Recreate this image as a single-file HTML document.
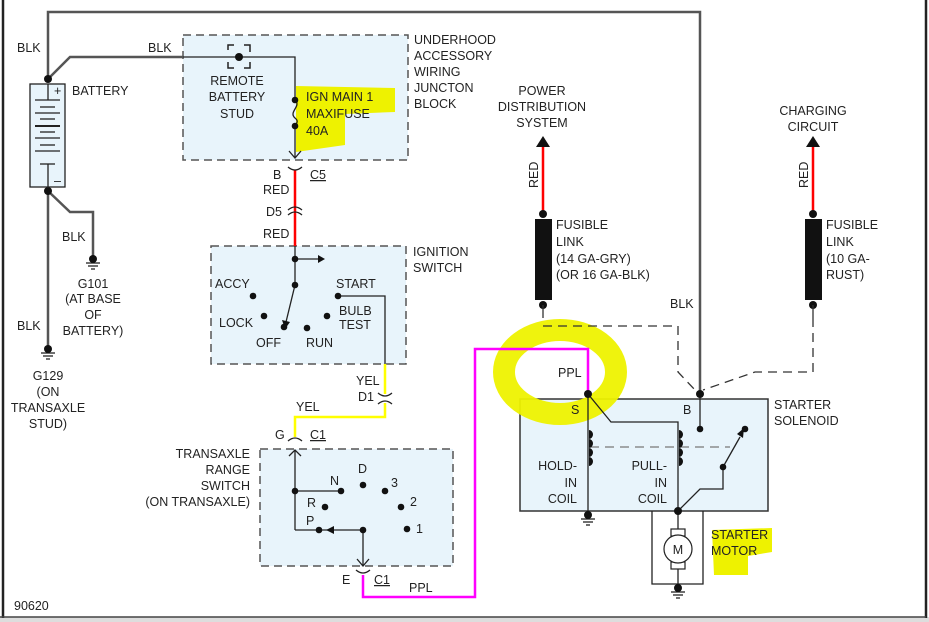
<!DOCTYPE html>
<html><head><meta charset="utf-8"><style>
html,body{margin:0;padding:0;background:#fff;}
svg{display:block;}
text{font-family:"Liberation Sans",Arial,sans-serif;font-size:12.5px;fill:#222;}
</style></head><body>
<svg width="929" height="622" viewBox="0 0 929 622" xmlns="http://www.w3.org/2000/svg">
<rect x="0" y="0" width="929" height="622" fill="#fff"/>
<rect x="0" y="617" width="929" height="5" fill="#ddd"/>
<line x1="3" y1="0" x2="3" y2="618" stroke="#222" stroke-width="2.5"/>
<line x1="926" y1="0" x2="926" y2="618" stroke="#222" stroke-width="2.5"/>
<line x1="0" y1="617" x2="926" y2="617" stroke="#444" stroke-width="1.5"/>

<!-- boxes -->
<rect x="183" y="35" width="225" height="125" fill="#e8f4fb" stroke="#555" stroke-width="1.5" stroke-dasharray="8,5"/>
<rect x="211" y="246" width="195" height="118" fill="#e8f4fb" stroke="#555" stroke-width="1.5" stroke-dasharray="8,5"/>
<rect x="260" y="449" width="193" height="117" fill="#e8f4fb" stroke="#555" stroke-width="1.5" stroke-dasharray="8,5"/>
<rect x="520" y="399" width="248" height="112" fill="#e8f4fb" stroke="#333" stroke-width="1.5"/>

<!-- highlights -->
<path d="M296 86 L395 88 L395 112 L345 114 L345 145 L296 152 Z" fill="#eef200"/>
<ellipse cx="560" cy="372" rx="56" ry="42" fill="none" stroke="#eef200" stroke-width="22" opacity="0.95"/>
<path d="M712 530 L772 528 L772 552 L748 556 L748 575 L714 575 Z" fill="#eef200"/>

<!-- gray main wires -->
<g stroke="#555" stroke-width="2.5" fill="none">
<polyline points="48,79 48,12 700,12 700,394"/>
<polyline points="48,191 48,348"/>
<polyline points="48,191 70,212 93,212 93,257"/>
<polyline points="48,79 70,57 183,57"/>
</g>
<g stroke="#222" stroke-width="1.3" fill="none">
<polyline points="183,57 295,57 295,100"/>
<path d="M295 100 C302 106 288 112 295 118 C300 122 295 124 295 126"/>
<line x1="295" y1="126" x2="295" y2="158"/>
<polyline points="289,151 295,158 301,151"/>
<path d="M228 50 V45 H234 M244 45 H250 V52 M250 62 V68 H244 M234 68 H228 V62" stroke-width="1.5"/>
</g>
<circle cx="239" cy="57" r="4" fill="#111"/>
<circle cx="295" cy="100" r="3.3" fill="#111"/>
<circle cx="295" cy="126" r="3.3" fill="#111"/>
<circle cx="48" cy="79" r="4" fill="#111"/>
<circle cx="48" cy="191" r="4" fill="#111"/>

<!-- battery -->
<rect x="30" y="84" width="35" height="103" fill="#e8f4fb" stroke="#222" stroke-width="1.3"/>
<g stroke="#222" stroke-width="1.3">
<line x1="48" y1="84" x2="48" y2="100"/>
<line x1="35" y1="100" x2="60" y2="100"/>
<line x1="40" y1="107" x2="55" y2="107"/>
<line x1="35" y1="113" x2="60" y2="113"/>
<line x1="40" y1="119" x2="55" y2="119"/>
<line x1="35" y1="126" x2="60" y2="126" stroke-width="2"/>
<line x1="40" y1="132" x2="55" y2="132"/>
<line x1="35" y1="138" x2="60" y2="138"/>
<line x1="40" y1="145" x2="55" y2="145"/>
<line x1="35" y1="151" x2="60" y2="151"/>
<line x1="40" y1="164" x2="55" y2="164"/>
<line x1="48" y1="164" x2="48" y2="187"/>
</g>
<text x="54" y="95" font-size="10">+</text>
<text x="54" y="185" font-size="10">–</text>

<!-- grounds -->
<g stroke="#222" stroke-width="1.3">
<line x1="86" y1="263" x2="100" y2="263"/><line x1="88" y1="266" x2="98" y2="266"/><line x1="91" y1="269" x2="95" y2="269"/>
<line x1="41" y1="353" x2="55" y2="353"/><line x1="43" y1="356" x2="53" y2="356"/><line x1="46" y1="359" x2="50" y2="359"/>
<line x1="581" y1="519" x2="595" y2="519"/><line x1="583" y1="522" x2="593" y2="522"/><line x1="586" y1="525" x2="590" y2="525"/>
<line x1="671" y1="592" x2="685" y2="592"/><line x1="673" y1="595" x2="683" y2="595"/><line x1="676" y1="598" x2="680" y2="598"/>
</g>
<circle cx="93" cy="259" r="4" fill="#111"/>
<circle cx="48" cy="349" r="4" fill="#111"/>

<!-- red wire -->
<line x1="295" y1="170" x2="295" y2="246" stroke="#f00" stroke-width="2.5"/>
<g stroke="#222" stroke-width="1.3" fill="none">
<path d="M288 167 Q295 173 302 167"/>
<path d="M288 210 Q295 204 302 210"/>
<path d="M288 215 Q295 209 302 215"/>
</g>

<!-- ignition switch -->
<g stroke="#222" stroke-width="1.3" fill="none">
<line x1="295" y1="246" x2="295" y2="285"/>
<line x1="295" y1="259" x2="318" y2="259"/>
<line x1="295" y1="285" x2="286" y2="322"/>
<polyline points="338,296 385,296 385,364"/>
</g>
<polygon points="318,255 325,259 318,263" fill="#111"/>
<polygon points="282,320 290,322 285,329" fill="#111"/>
<g fill="#111">
<circle cx="295" cy="259" r="3.3"/><circle cx="295" cy="285" r="3.3"/>
<circle cx="253" cy="296" r="3.3"/><circle cx="264" cy="316" r="3.3"/>
<circle cx="284" cy="327" r="3.3"/><circle cx="307" cy="328" r="3.3"/>
<circle cx="327" cy="316" r="3.3"/><circle cx="338" cy="296" r="3.3"/>
</g>

<!-- yellow wire -->
<polyline points="385,364 385,417 295,417 295,437" fill="none" stroke="#ff0" stroke-width="2.5"/>
<rect x="379" y="394" width="12" height="9" fill="#fff"/>
<g stroke="#222" stroke-width="1.3" fill="none">
<path d="M378 393 Q385 399 392 393"/>
<path d="M378 404 Q385 398 392 404"/>
<path d="M288 441 Q295 435 302 441"/>
</g>

<!-- transaxle switch -->
<g stroke="#222" stroke-width="1.3" fill="none">
<polyline points="289,456 295,450 301,456"/>
<line x1="295" y1="450" x2="295" y2="530"/>
<line x1="295" y1="491" x2="341" y2="491"/>
<line x1="295" y1="530" x2="363" y2="530"/>
<line x1="363" y1="530" x2="363" y2="566"/>
<polyline points="357,559 363,566 369,559"/>
<path d="M356 570 Q363 576 370 570"/>
</g>
<polygon points="334,526 326,530 334,534" fill="#111"/>
<g fill="#111">
<circle cx="295" cy="491" r="3.3"/><circle cx="341" cy="491" r="3.3"/>
<circle cx="363" cy="485" r="3.3"/><circle cx="385" cy="491" r="3.3"/>
<circle cx="401" cy="507" r="3.3"/><circle cx="325" cy="507" r="3.3"/>
<circle cx="407" cy="529" r="3.3"/><circle cx="319" cy="530" r="3.3"/>
<circle cx="363" cy="530" r="3.3"/>
</g>

<!-- pink wire -->
<polyline points="363,575 363,597 475,597 475,349 588,349 588,394" fill="none" stroke="#f0f" stroke-width="2.5"/>

<!-- fusible links -->
<line x1="543" y1="146" x2="543" y2="213" stroke="#f00" stroke-width="2.5"/>
<line x1="813" y1="146" x2="813" y2="213" stroke="#f00" stroke-width="2.5"/>
<polygon points="536,147 543,136 550,147" fill="#111"/>
<polygon points="806,147 813,136 820,147" fill="#111"/>
<rect x="535" y="219" width="17" height="81" fill="#111"/>
<rect x="805" y="219" width="17" height="81" fill="#111"/>
<g fill="#111">
<circle cx="543" cy="214" r="4"/><circle cx="543" cy="305" r="4"/>
<circle cx="813" cy="214" r="4"/><circle cx="813" cy="305" r="4"/>
</g>
<g stroke="#333" stroke-width="1.3" fill="none">
<line x1="543" y1="305" x2="543" y2="318"/>
<line x1="813" y1="305" x2="813" y2="318"/>
<polyline points="543,326 678,326 678,372 695,390" stroke-dasharray="9,6"/>
<polyline points="813,318 813,372 755,372 703,390" stroke-dasharray="9,6"/>
</g>

<!-- solenoid -->
<g stroke="#222" stroke-width="1.3" fill="none">
<line x1="588" y1="394" x2="588" y2="515"/>
<polyline points="588,394 611,422 678,422 678,511"/>
<line x1="700" y1="394" x2="700" y2="429"/>
<line x1="590" y1="447" x2="730" y2="447" stroke="#777" stroke-dasharray="9,6"/>
<line x1="723" y1="467" x2="740" y2="437"/>
<polyline points="723,467 723,489 700,489 678,511"/>
<line x1="678" y1="511" x2="678" y2="588"/>
<polyline points="652,511 652,584 703,584 703,511"/>
</g>
<polygon points="737,434 744,428 743,438" fill="#111"/>
<g fill="#111">
<path d="M589 430 a4 4.5 0 0 1 0 9 a4 4.5 0 0 1 0 9 a4 4.5 0 0 1 0 9 a4 4.5 0 0 1 0 9 Z"/>
<path d="M679 430 a4 4.5 0 0 1 0 9 a4 4.5 0 0 1 0 9 a4 4.5 0 0 1 0 9 a4 4.5 0 0 1 0 9 Z"/>
<circle cx="588" cy="394" r="4"/><circle cx="700" cy="394" r="4"/>
<circle cx="700" cy="429" r="3.3"/><circle cx="745" cy="429" r="3.3"/>
<circle cx="723" cy="467" r="3.3"/><circle cx="678" cy="511" r="4"/>
<circle cx="588" cy="515" r="4"/><circle cx="678" cy="588" r="4"/>
</g>
<rect x="671" y="529" width="14" height="7" fill="#fff" stroke="#222" stroke-width="1.2"/>
<rect x="671" y="562" width="14" height="7" fill="#fff" stroke="#222" stroke-width="1.2"/>
<circle cx="678" cy="549" r="14" fill="#fff" stroke="#222" stroke-width="1.2"/>
<text x="678" y="554" text-anchor="middle">M</text>

<!-- labels -->
<text x="17" y="52">BLK</text>
<text x="148" y="52">BLK</text>
<text x="72" y="95">BATTERY</text>
<text x="414" y="44">UNDERHOOD</text>
<text x="414" y="60">ACCESSORY</text>
<text x="414" y="76">WIRING</text>
<text x="414" y="92">JUNCTON</text>
<text x="414" y="108">BLOCK</text>
<text x="237" y="85" text-anchor="middle">REMOTE</text>
<text x="237" y="101" text-anchor="middle">BATTERY</text>
<text x="237" y="118" text-anchor="middle">STUD</text>
<text x="306" y="101">IGN MAIN 1</text>
<text x="306" y="118">MAXIFUSE</text>
<text x="306" y="135">40A</text>
<text x="273" y="179">B</text>
<text x="310" y="179" text-decoration="underline">C5</text>
<text x="263" y="194">RED</text>
<text x="266" y="216">D5</text>
<text x="263" y="238">RED</text>
<text x="413" y="256">IGNITION</text>
<text x="413" y="272">SWITCH</text>
<text x="215" y="288">ACCY</text>
<text x="219" y="327">LOCK</text>
<text x="256" y="347">OFF</text>
<text x="306" y="347">RUN</text>
<text x="336" y="288">START</text>
<text x="339" y="315">BULB</text>
<text x="339" y="329">TEST</text>
<text x="356" y="385">YEL</text>
<text x="358" y="401">D1</text>
<text x="296" y="411">YEL</text>
<text x="275" y="439">G</text>
<text x="310" y="439" text-decoration="underline">C1</text>
<text x="250" y="458" text-anchor="end">TRANSAXLE</text>
<text x="250" y="474" text-anchor="end">RANGE</text>
<text x="250" y="490" text-anchor="end">SWITCH</text>
<text x="250" y="506" text-anchor="end">(ON TRANSAXLE)</text>
<text x="330" y="485">N</text>
<text x="358" y="473">D</text>
<text x="391" y="487">3</text>
<text x="410" y="506">2</text>
<text x="307" y="507">R</text>
<text x="416" y="533">1</text>
<text x="306" y="525">P</text>
<text x="342" y="584">E</text>
<text x="374" y="584" text-decoration="underline">C1</text>
<text x="409" y="592">PPL</text>
<text x="62" y="241">BLK</text>
<text x="93" y="288" text-anchor="middle">G101</text>
<text x="93" y="303" text-anchor="middle">(AT BASE</text>
<text x="93" y="319" text-anchor="middle">OF</text>
<text x="93" y="335" text-anchor="middle">BATTERY)</text>
<text x="17" y="330">BLK</text>
<text x="48" y="380" text-anchor="middle">G129</text>
<text x="48" y="396" text-anchor="middle">(ON</text>
<text x="48" y="412" text-anchor="middle">TRANSAXLE</text>
<text x="48" y="428" text-anchor="middle">STUD)</text>
<text x="542" y="95" text-anchor="middle">POWER</text>
<text x="542" y="111" text-anchor="middle">DISTRIBUTION</text>
<text x="542" y="127" text-anchor="middle">SYSTEM</text>
<text x="813" y="115" text-anchor="middle">CHARGING</text>
<text x="813" y="131" text-anchor="middle">CIRCUIT</text>
<text transform="translate(538,188) rotate(-90)">RED</text>
<text transform="translate(808,188) rotate(-90)">RED</text>
<text x="556" y="229">FUSIBLE</text>
<text x="556" y="246">LINK</text>
<text x="556" y="263">(14 GA-GRY)</text>
<text x="556" y="279">(OR 16 GA-BLK)</text>
<text x="826" y="229">FUSIBLE</text>
<text x="826" y="246">LINK</text>
<text x="826" y="263">(10 GA-</text>
<text x="826" y="279">RUST)</text>
<text x="670" y="308">BLK</text>
<text x="558" y="377">PPL</text>
<text x="571" y="414">S</text>
<text x="683" y="414">B</text>
<text x="774" y="409">STARTER</text>
<text x="774" y="425">SOLENOID</text>
<text x="577" y="470" text-anchor="end">HOLD-</text>
<text x="577" y="487" text-anchor="end">IN</text>
<text x="577" y="503" text-anchor="end">COIL</text>
<text x="667" y="470" text-anchor="end">PULL-</text>
<text x="667" y="487" text-anchor="end">IN</text>
<text x="667" y="503" text-anchor="end">COIL</text>
<text x="711" y="539">STARTER</text>
<text x="711" y="555">MOTOR</text>
<text x="14" y="610">90620</text>
</svg>
</body></html>
